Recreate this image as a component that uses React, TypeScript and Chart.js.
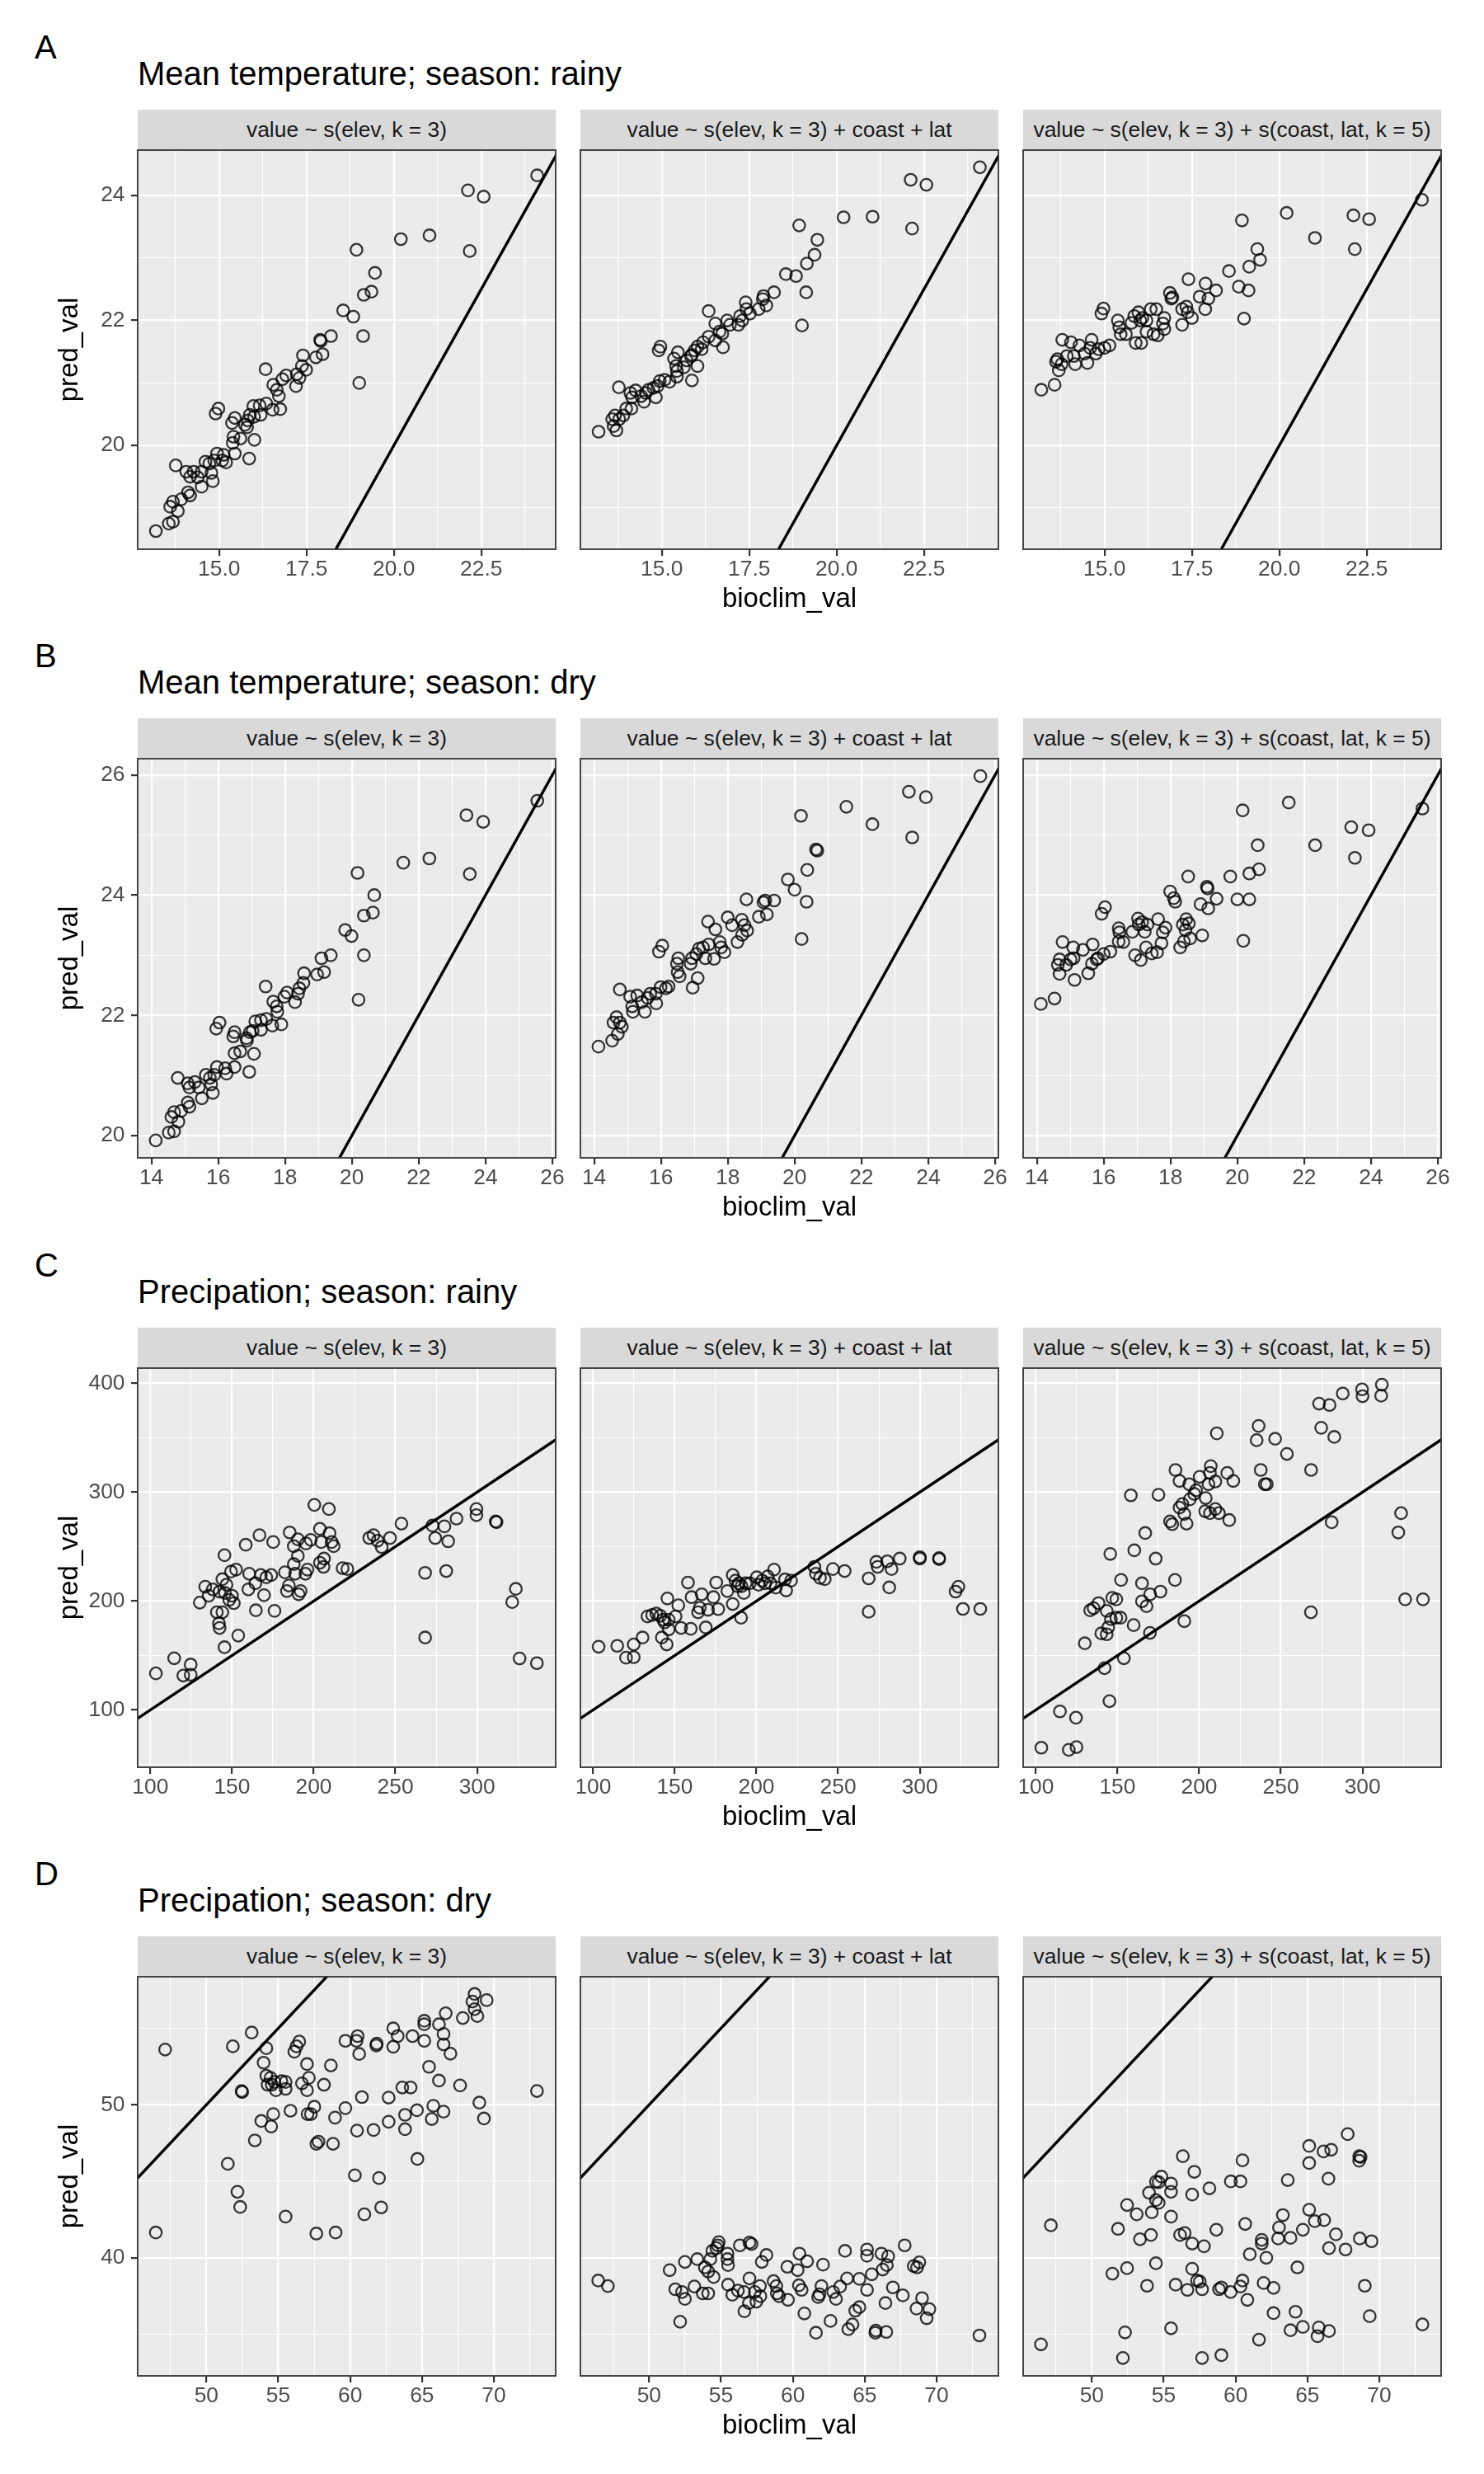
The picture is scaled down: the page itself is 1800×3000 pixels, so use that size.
import React, { useEffect, useRef } from "react";
import { Chart, registerables } from "chart.js";

Chart.register(...registerables);

const FONT = "'Liberation Sans', Arial, Helvetica, sans-serif";
Chart.defaults.font.family = FONT;

// ---------------- text ----------------
const rowTags = ["A", "B", "C", "D"];
const rowTitles = [
  "Mean temperature; season: rainy",
  "Mean temperature; season: dry",
  "Precipation; season: rainy",
  "Precipation; season: dry",
];
const stripLabels = [
  "value ~ s(elev, k = 3)",
  "value ~ s(elev, k = 3) + coast + lat",
  "value ~ s(elev, k = 3) + s(coast, lat, k = 5)",
];

// ---------------- data: [bioclim_val, pred_val] ----------------
const tempRainyElev = [[24.10,24.32],[22.12,24.08],[22.57,23.98],[21.02,23.36],[20.20,23.30],[22.17,23.11],[18.93,23.13],[19.46,22.76],[19.36,22.46],[19.14,22.41],[18.55,22.16],[18.84,22.06],[19.12,21.75],[19.01,21.00],[18.20,21.75],[17.89,21.69],[17.91,21.67],[17.96,21.46],[17.77,21.41],[17.40,21.44],[17.37,21.27],[17.49,21.21],[17.22,21.14],[17.30,21.08],[17.20,20.95],[16.92,21.12],[16.81,21.06],[16.33,21.22],[16.55,20.97],[16.65,20.89],[16.71,20.79],[16.75,20.58],[16.53,20.57],[16.35,20.67],[16.16,20.64],[15.98,20.63],[16.19,20.49],[16.00,20.46],[15.88,20.49],[15.82,20.40],[15.74,20.33],[15.80,20.29],[15.45,20.44],[15.37,20.36],[14.98,20.59],[14.90,20.51],[15.61,20.11],[15.41,20.14],[15.39,20.04],[16.01,20.09],[15.45,19.87],[15.86,19.79],[15.13,19.85],[15.20,19.73],[14.94,19.87],[14.86,19.76],[14.72,19.71],[14.61,19.74],[14.78,19.56],[14.82,19.43],[14.50,19.58],[14.50,19.34],[14.27,19.58],[14.06,19.58],[14.17,19.50],[13.76,19.68],[14.11,19.25],[14.17,19.20],[13.92,19.14],[13.68,19.10],[13.60,19.02],[13.82,18.95],[13.68,18.78],[13.56,18.75],[13.19,18.63],[14.39,19.49],[15.09,19.76]];
const tempRainyCoast = [[24.10,24.45],[22.12,24.25],[22.57,24.17],[20.20,23.65],[21.03,23.66],[22.16,23.47],[18.93,23.52],[19.45,23.29],[19.37,23.05],[19.15,22.91],[18.55,22.74],[18.84,22.71],[19.13,22.45],[19.01,21.92],[18.21,22.45],[17.91,22.39],[17.89,22.34],[17.99,22.24],[17.77,22.18],[17.40,22.29],[17.42,22.18],[17.52,22.11],[17.24,22.07],[17.30,22.00],[17.19,21.93],[16.87,22.00],[16.95,21.93],[16.34,22.15],[16.53,21.95],[16.65,21.82],[16.73,21.79],[16.75,21.57],[16.53,21.68],[16.34,21.74],[16.18,21.65],[16.02,21.58],[16.14,21.54],[15.94,21.52],[15.83,21.43],[15.86,21.45],[15.71,21.36],[15.63,21.25],[15.46,21.49],[15.35,21.39],[14.96,21.58],[14.91,21.52],[15.41,21.27],[15.43,21.19],[15.43,21.10],[16.02,21.27],[15.22,21.02],[15.86,21.04],[15.08,21.05],[14.94,21.03],[14.88,20.95],[14.76,20.92],[14.62,20.89],[14.83,20.77],[14.54,20.84],[14.49,20.70],[14.25,20.88],[14.10,20.84],[14.15,20.77],[13.77,20.93],[14.13,20.59],[13.90,20.48],[13.66,20.48],[13.78,20.42],[13.58,20.42],[13.62,20.31],[13.70,20.24],[13.19,20.22],[14.41,20.79],[13.98,20.59]];
const tempRainySpatial = [[24.08,23.93],[20.21,23.72],[22.12,23.68],[22.57,23.62],[18.93,23.60],[21.02,23.32],[22.16,23.14],[19.37,23.14],[19.45,22.97],[19.14,22.86],[18.56,22.79],[18.84,22.54],[19.12,22.48],[18.99,22.03],[17.40,22.66],[17.89,22.59],[18.19,22.48],[17.97,22.35],[17.72,22.38],[17.88,22.18],[16.87,22.44],[16.94,22.37],[17.22,22.18],[17.34,22.22],[17.38,22.13],[17.50,22.04],[17.22,21.93],[16.48,22.18],[16.32,22.18],[15.97,22.13],[15.85,22.07],[16.08,22.04],[16.20,22.00],[16.71,22.04],[16.67,21.95],[16.71,21.86],[16.40,21.78],[16.52,21.76],[16.20,21.82],[15.89,21.64],[16.05,21.64],[15.38,22.00],[15.42,21.89],[15.46,21.78],[15.61,21.78],[15.77,21.96],[14.97,22.19],[14.91,22.11],[15.14,21.60],[15.00,21.56],[14.83,21.54],[14.63,21.69],[14.59,21.56],[14.75,21.47],[14.51,21.32],[14.28,21.60],[14.04,21.65],[13.79,21.69],[14.12,21.43],[14.16,21.30],[13.92,21.43],[13.65,21.38],[13.61,21.34],[13.77,21.30],[13.69,21.20],[13.19,20.89],[13.57,20.97],[14.43,21.47],[16.02,22.00],[16.91,22.35]];

const tempDryElev = [[25.55,25.57],[23.43,25.33],[23.93,25.22],[21.54,24.54],[22.32,24.61],[23.53,24.35],[20.17,24.37],[20.67,24.00],[20.63,23.71],[20.36,23.66],[19.80,23.42],[19.99,23.32],[20.36,23.00],[20.20,22.26],[19.37,23.00],[19.09,22.95],[19.17,22.72],[18.96,22.68],[18.57,22.70],[18.55,22.54],[18.43,22.45],[18.30,22.22],[18.39,22.36],[18.06,22.38],[17.98,22.31],[17.42,22.48],[17.65,22.23],[17.75,22.15],[17.77,22.06],[17.89,21.85],[17.62,21.83],[17.44,21.94],[17.28,21.92],[17.11,21.90],[17.28,21.76],[17.03,21.74],[16.95,21.72],[16.85,21.62],[16.86,21.58],[16.49,21.72],[16.45,21.65],[16.04,21.88],[15.94,21.78],[16.66,21.40],[16.49,21.37],[17.07,21.36],[16.49,21.14],[16.93,21.06],[16.21,21.12],[16.25,21.03],[15.96,21.14],[15.88,21.01],[15.75,20.96],[15.63,21.01],[15.84,20.71],[15.51,20.62],[15.30,20.89],[15.09,20.87],[15.14,20.80],[14.79,20.96],[15.14,20.48],[15.09,20.55],[14.89,20.41],[14.68,20.39],[14.60,20.31],[14.81,20.23],[14.68,20.07],[14.52,20.05],[14.13,19.92],[15.42,20.80],[15.79,20.85]];
const tempDryCoast = [[25.56,25.98],[23.42,25.72],[23.93,25.63],[21.55,25.47],[22.33,25.18],[23.52,24.96],[20.19,25.32],[20.64,24.76],[20.68,24.74],[20.38,24.42],[19.80,24.26],[20.00,24.09],[20.36,23.89],[20.21,23.27],[19.39,23.91],[19.12,23.91],[19.07,23.88],[18.56,23.93],[19.17,23.68],[18.93,23.64],[18.00,23.63],[18.13,23.50],[18.42,23.59],[18.50,23.50],[18.58,23.41],[18.43,23.34],[18.29,23.22],[17.41,23.56],[17.63,23.43],[17.76,23.22],[17.80,23.13],[17.90,23.05],[17.59,22.94],[17.43,23.18],[17.26,23.13],[17.14,23.11],[17.33,22.95],[17.06,23.02],[16.93,22.95],[16.89,22.86],[16.52,22.95],[16.48,22.86],[16.04,23.16],[15.94,23.06],[16.50,22.72],[16.56,22.65],[17.10,22.62],[16.95,22.46],[16.23,22.48],[16.15,22.45],[15.99,22.47],[15.85,22.36],[15.68,22.36],[15.60,22.29],[15.86,22.20],[15.52,22.06],[15.29,22.33],[15.08,22.31],[15.14,22.15],[15.16,22.06],[14.77,22.43],[14.67,21.97],[14.58,21.88],[14.77,21.88],[14.83,21.81],[14.71,21.69],[14.54,21.58],[14.13,21.48],[15.43,22.22]];
const tempDrySpatial = [[25.54,25.44],[21.54,25.54],[20.16,25.41],[23.41,25.13],[23.93,25.08],[20.61,24.83],[22.33,24.83],[23.52,24.62],[20.65,24.43],[20.36,24.36],[19.79,24.31],[18.53,24.31],[19.09,24.14],[19.11,24.11],[19.38,23.94],[20.00,23.93],[20.36,23.93],[18.90,23.85],[19.13,23.78],[20.18,23.24],[17.99,24.06],[18.10,23.95],[18.14,23.89],[18.95,23.33],[18.47,23.60],[18.37,23.51],[18.55,23.53],[18.45,23.42],[18.59,23.28],[18.40,23.23],[18.29,23.13],[17.85,23.46],[17.63,23.60],[17.77,23.38],[17.73,23.20],[17.60,23.05],[17.44,23.03],[17.03,23.61],[17.15,23.55],[17.31,23.51],[17.05,23.51],[17.23,23.39],[16.86,23.39],[17.27,23.13],[16.94,23.00],[17.11,22.92],[16.45,23.45],[16.47,23.38],[16.59,23.22],[16.45,23.23],[16.04,23.80],[15.94,23.69],[16.20,23.06],[16.00,23.02],[15.83,22.95],[15.67,23.18],[15.65,22.86],[15.54,22.70],[15.38,23.09],[15.09,23.13],[14.77,23.22],[15.10,22.95],[15.01,22.93],[14.68,22.93],[14.63,22.84],[14.88,22.84],[14.68,22.69],[15.13,22.59],[14.53,22.28],[14.12,22.19],[15.79,22.93]];

const precRainyElev = [[103.4,133.6],[114.6,147.5],[120.2,131.6],[124.7,132.4],[124.7,141.7],[130.3,198.6],[133.6,213.2],[135.7,204.9],[138.2,210.7],[140.7,189.7],[142.0,179.6],[142.4,175.3],[144.1,189.7],[145.4,157.6],[144.1,220.1],[145.4,242.1],[142.4,208.7],[146.6,215.0],[145.7,207.4],[148.3,201.1],[150.0,204.9],[151.1,198.1],[149.4,227.1],[152.5,228.9],[153.8,168.3],[158.4,251.7],[160.5,225.1],[160.0,210.7],[164.6,191.5],[164.3,216.3],[166.8,260.5],[167.6,223.9],[171.0,221.8],[169.6,205.4],[174.0,223.9],[175.2,254.2],[176.0,191.0],[182.4,226.4],[183.6,209.2],[184.8,214.3],[185.3,263.0],[187.8,233.9],[188.6,225.1],[187.8,250.4],[190.3,256.7],[190.3,241.5],[190.8,206.2],[192.0,209.2],[194.9,225.1],[196.2,228.9],[195.3,252.9],[198.2,256.2],[200.4,288.3],[203.8,266.3],[204.6,254.2],[203.8,235.2],[206.0,231.4],[206.3,239.0],[209.3,284.5],[209.7,262.3],[211.0,254.2],[212.2,250.4],[217.7,230.2],[220.6,229.4],[234.0,257.9],[236.6,260.5],[239.1,255.4],[241.6,249.6],[246.7,257.9],[253.7,271.1],[272.7,269.3],[274.4,257.9],[280.0,268.6],[282.3,254.9],[287.4,275.7],[268.2,225.9],[281.1,227.6],[268.2,166.5],[299.6,284.5],[299.6,278.9],[311.4,273.1],[311.9,272.4],[323.7,211.2],[321.5,199.1],[326.0,147.3],[336.6,143.0]];
const precRainyCoast = [[103.4,158.1],[114.8,158.9],[120.2,148.0],[124.9,148.5],[124.9,160.2],[130.3,166.5],[133.3,185.9],[136.2,187.2],[138.7,188.5],[141.2,186.5],[142.1,166.5],[145.1,160.2],[142.9,182.9],[145.5,202.4],[146.3,182.9],[143.8,180.4],[146.3,174.0],[150.5,185.9],[152.2,196.1],[153.9,175.3],[159.8,174.5],[158.1,217.0],[160.3,203.6],[164.3,189.7],[166.5,206.2],[165.3,193.8],[169.0,175.8],[170.4,192.0],[173.7,203.6],[175.4,217.0],[176.6,192.6],[182.2,209.2],[185.5,223.9],[185.5,197.3],[187.2,218.8],[188.4,213.7],[189.2,216.3],[190.6,184.7],[192.3,207.4],[193.4,216.3],[196.0,216.3],[200.2,221.8],[201.3,215.0],[203.5,218.8],[205.2,216.3],[206.9,222.6],[208.6,216.3],[210.8,228.9],[211.9,212.4],[217.5,219.9],[218.2,209.8],[221.2,218.8],[235.5,231.4],[236.4,225.1],[238.9,221.3],[241.8,220.1],[246.8,229.4],[254.0,227.6],[268.7,220.8],[273.4,236.0],[274.2,231.4],[280.1,236.5],[282.7,229.4],[287.7,239.0],[281.3,212.5],[268.7,190.2],[300.0,240.3],[300.0,239.0],[311.8,239.5],[311.8,238.5],[323.6,213.2],[321.9,208.7],[326.4,192.8],[337.0,192.8],[190.9,213.7]];
const precRainySpatial = [[103.4,65.4],[120.2,63.4],[124.9,65.9],[114.8,98.7],[124.6,92.9],[145.1,108.1],[142.1,138.4],[153.9,147.5],[130.0,161.2],[140.1,170.3],[143.4,169.5],[144.3,175.8],[133.3,191.5],[135.4,193.5],[138.4,198.1],[143.4,191.0],[146.0,183.4],[149.3,184.7],[151.9,184.7],[146.8,202.9],[149.3,201.6],[159.9,177.9],[165.0,199.8],[167.8,195.3],[170.0,206.2],[176.3,208.7],[165.0,216.3],[169.9,170.8],[190.9,181.6],[152.2,219.4],[185.2,219.4],[145.6,243.3],[160.3,246.6],[173.4,239.0],[167.0,262.5],[158.2,297.1],[175.1,297.6],[182.2,273.1],[183.5,270.6],[192.3,271.1],[188.0,285.8],[189.7,289.1],[190.9,280.0],[194.3,293.4],[197.0,298.4],[198.1,301.7],[185.5,320.4],[188.0,310.3],[193.9,307.3],[200.3,314.1],[204.0,294.6],[203.7,282.5],[206.6,280.7],[209.9,284.5],[212.1,280.7],[207.1,323.9],[206.6,317.6],[205.7,307.3],[209.9,309.8],[217.2,317.6],[220.9,310.3],[218.4,274.4],[210.8,354.0],[236.4,360.8],[235.2,347.7],[246.5,349.0],[253.7,335.1],[237.7,320.4],[240.2,307.3],[241.4,307.3],[268.5,320.4],[273.4,381.3],[279.8,380.0],[287.9,390.6],[274.7,359.1],[282.7,350.7],[299.7,394.4],[300.0,388.1],[311.8,398.7],[311.4,388.6],[281.1,272.4],[268.4,189.7],[323.6,280.7],[321.9,263.0],[326.1,201.6],[337.0,201.6]];

const precDryElev = [[47.13,53.61],[46.48,41.65],[51.84,53.82],[53.15,54.72],[54.17,53.70],[53.98,52.75],[54.17,51.90],[54.26,51.31],[54.46,51.76],[54.74,51.49],[54.84,50.95],[54.55,51.31],[55.22,51.54],[55.51,51.49],[55.51,51.04],[52.45,50.90],[52.49,50.83],[56.12,53.47],[56.27,53.82],[56.46,54.13],[56.65,51.40],[57.00,50.95],[57.13,51.76],[57.00,52.66],[58.18,51.31],[58.66,52.57],[53.82,48.94],[54.51,48.58],[54.65,49.39],[55.85,49.61],[53.37,47.67],[57.04,49.39],[57.27,49.39],[57.51,49.87],[57.80,47.59],[57.65,47.45],[58.81,47.45],[58.95,49.16],[59.67,49.78],[51.49,46.14],[52.16,44.31],[52.35,43.32],[55.51,42.69],[57.65,41.58],[58.99,41.65],[59.67,54.18],[60.44,54.18],[60.52,54.49],[60.63,53.32],[61.85,54.00],[61.82,53.88],[63.00,54.99],[63.31,54.49],[63.00,53.79],[64.34,54.49],[65.16,54.18],[65.16,55.49],[65.16,55.26],[66.18,55.26],[66.50,54.63],[66.50,53.95],[66.98,53.34],[66.65,55.98],[67.84,55.67],[68.66,57.24],[68.51,56.75],[68.66,56.25],[68.85,55.80],[69.50,56.84],[65.49,52.48],[66.18,51.58],[67.65,51.26],[73.00,50.90],[60.82,50.50],[62.68,50.47],[63.63,51.13],[64.21,51.13],[68.99,50.14],[69.31,49.10],[64.65,49.64],[65.79,49.93],[66.50,49.55],[65.68,49.07],[63.82,49.34],[63.82,48.40],[62.68,48.89],[61.63,48.35],[60.48,48.31],[64.68,46.46],[60.33,45.39],[62.01,45.21],[60.99,42.84],[62.16,43.29]];
const precDryCoast = [[46.46,38.51],[47.13,38.15],[51.43,39.19],[52.49,39.73],[53.35,39.91],[51.82,37.94],[52.29,37.76],[52.49,37.31],[53.15,38.12],[52.16,35.82],[53.73,37.67],[54.11,37.67],[53.88,39.37],[54.11,39.10],[54.49,38.74],[54.26,39.91],[54.40,40.45],[54.68,40.63],[54.84,41.02],[54.78,40.81],[55.45,40.27],[55.45,39.91],[55.49,39.52],[56.31,40.81],[56.98,40.99],[57.13,40.90],[55.49,38.24],[55.79,37.58],[56.18,37.85],[56.60,37.76],[56.98,38.65],[56.63,36.50],[56.94,37.04],[57.36,37.76],[57.46,37.13],[57.71,38.15],[57.74,37.49],[57.84,39.73],[58.16,40.18],[58.66,38.47],[58.85,38.15],[58.89,37.67],[59.04,37.49],[59.66,37.25],[59.62,39.41],[60.33,39.19],[60.46,40.27],[60.99,39.77],[60.42,38.20],[60.61,37.90],[60.80,36.36],[62.10,39.55],[61.99,38.15],[61.76,37.43],[61.85,37.61],[61.61,35.10],[62.62,35.87],[62.81,37.76],[63.00,37.31],[63.29,38.12],[63.77,38.65],[63.63,40.45],[64.63,38.62],[64.34,36.54],[64.63,36.77],[63.86,35.33],[64.15,35.64],[65.16,40.54],[65.16,40.13],[65.16,37.90],[65.49,38.92],[66.16,40.27],[66.63,40.09],[66.54,39.52],[66.25,39.23],[65.74,35.10],[65.77,35.24],[66.50,35.15],[66.44,37.04],[66.96,38.06],[67.65,37.54],[67.78,40.81],[68.41,39.46],[68.80,39.70],[68.64,39.37],[68.99,37.36],[68.60,36.68],[69.50,36.64],[69.31,36.05],[72.98,34.92]];
const precDrySpatial = [[46.46,34.34],[47.15,42.12],[51.82,41.89],[52.45,43.45],[53.12,42.84],[53.35,41.21],[52.31,35.12],[52.16,33.45],[51.43,38.96],[52.45,39.32],[53.84,38.17],[54.46,39.64],[54.11,41.49],[54.17,42.97],[54.46,43.77],[54.65,43.59],[53.98,44.25],[54.46,44.97],[54.65,44.94],[54.84,45.30],[55.51,44.85],[55.51,44.31],[55.51,42.69],[55.51,35.39],[55.83,38.24],[56.14,41.49],[56.46,41.62],[56.33,46.64],[56.98,44.13],[57.13,45.62],[56.98,40.93],[56.65,37.90],[56.98,39.28],[57.32,38.51],[57.51,38.44],[57.67,37.94],[57.80,40.75],[57.67,33.45],[58.18,44.54],[58.66,41.83],[58.85,37.94],[59.01,38.06],[59.01,33.63],[59.66,37.76],[59.67,44.99],[60.34,44.99],[60.48,46.37],[60.67,42.21],[60.48,38.51],[60.34,38.12],[60.82,37.25],[60.99,40.23],[61.82,41.17],[61.82,40.93],[62.14,40.00],[61.95,38.35],[62.64,38.03],[62.64,36.38],[61.63,34.65],[62.96,41.26],[63.02,41.98],[63.29,42.79],[63.63,45.08],[63.82,41.30],[64.30,39.37],[64.17,36.47],[63.82,35.26],[64.68,35.48],[64.68,41.83],[65.12,43.14],[65.51,42.39],[66.16,42.46],[65.12,47.31],[65.12,46.19],[66.12,46.95],[66.65,47.06],[66.46,45.17],[66.98,41.53],[66.50,40.63],[67.65,40.54],[67.80,48.08],[68.60,46.64],[68.70,46.59],[68.60,46.34],[68.64,41.26],[69.46,41.08],[68.99,38.17],[69.33,36.18],[65.79,35.44],[65.70,34.87],[66.50,35.21],[73.00,35.64]];

// ---------------- axis limits and breaks ----------------
const tempRainyXLim = [12.67, 24.63];
const tempRainyYLim = [18.34, 24.725];
const tempRainyXMajor = [15, 17.5, 20, 22.5];
const tempRainyXMinor = [13.75, 16.25, 18.75, 21.25, 23.75];
const tempRainyYMajor = [20, 22, 24];
const tempRainyYMinor = [19, 21, 23];

const tempDryXLim = [13.59, 26.1];
const tempDryYLim = [19.63, 26.27];
const tempDryXMajor = [14, 16, 18, 20, 22, 24, 26];
const tempDryXMinor = [15, 17, 19, 21, 23, 25];
const tempDryYMajor = [20, 22, 24, 26];
const tempDryYMinor = [21, 23, 25];

const precRainyXLim = [92.26, 348.1];
const precRainyYLim = [47.4, 413.9];
const precRainyXMajor = [100, 150, 200, 250, 300];
const precRainyXMinor = [125, 175, 225, 275, 325];
const precRainyYMajor = [100, 200, 300, 400];
const precRainyYMinor = [50, 150, 250, 350];

const precDryXLim = [45.22, 74.3];
const precDryYLim = [32.28, 58.37];
const precDryXMajor = [50, 55, 60, 65, 70];
const precDryXMinor = [47.5, 52.5, 57.5, 62.5, 67.5, 72.5];
const precDryYMajor = [40, 50];
const precDryYMinor = [35, 45, 55];

const ROWS: any[] = [
  { xLim: tempRainyXLim, yLim: tempRainyYLim, xMajor: tempRainyXMajor, xMinor: tempRainyXMinor, yMajor: tempRainyYMajor, yMinor: tempRainyYMinor, xDec: 1, panels: [tempRainyElev, tempRainyCoast, tempRainySpatial] },
  { xLim: tempDryXLim, yLim: tempDryYLim, xMajor: tempDryXMajor, xMinor: tempDryXMinor, yMajor: tempDryYMajor, yMinor: tempDryYMinor, xDec: 0, panels: [tempDryElev, tempDryCoast, tempDrySpatial] },
  { xLim: precRainyXLim, yLim: precRainyYLim, xMajor: precRainyXMajor, xMinor: precRainyXMinor, yMajor: precRainyYMajor, yMinor: precRainyYMinor, xDec: 0, panels: [precRainyElev, precRainyCoast, precRainySpatial] },
  { xLim: precDryXLim, yLim: precDryYLim, xMajor: precDryXMajor, xMinor: precDryXMinor, yMajor: precDryYMajor, yMinor: precDryYMinor, xDec: 0, panels: [precDryElev, precDryCoast, precDrySpatial] },
];

// ---------------- layout ----------------
const PLOT_TOP = [182, 920, 1659, 2397];
const PLOT_LEFT = [167, 704, 1241];
const PLOT_W = 507;
const PLOT_H = 484;
const STRIP_H = 49;
const PAD_T = 4;
const PAD_R = 18;
const X_H = 90;
const Y0_LEFT = 40;

const panelDeco = {
  id: "panelDeco",
  beforeDraw(chart: any) {
    const { ctx, chartArea: a } = chart;
    ctx.save();
    ctx.fillStyle = "#EBEBEB";
    ctx.fillRect(a.left, a.top, a.right - a.left, a.bottom - a.top);
    ctx.restore();
  },
  afterDraw(chart: any) {
    const { ctx, chartArea: a } = chart;
    ctx.save();
    ctx.strokeStyle = "#333333";
    ctx.lineWidth = 1.8;
    ctx.strokeRect(a.left, a.top, a.right - a.left, a.bottom - a.top);
    ctx.restore();
  },
};

function isMaj(arr: number[], v: number) {
  return arr.some((m) => Math.abs(m - v) < 1e-6);
}

function Panel({ r, c }: { r: number; c: number }) {
  const ref = useRef<HTMLCanvasElement>(null);
  const row = ROWS[r];
  const padL = c === 0 ? 0 : 4;
  const yW = c === 0 ? PLOT_LEFT[0] - Y0_LEFT : 0;
  const left = c === 0 ? Y0_LEFT : PLOT_LEFT[c] - 4;
  const w = padL + yW + PLOT_W + PAD_R;
  const h = PAD_T + PLOT_H + X_H;

  useEffect(() => {
    const xTicks = [...row.xMajor, ...row.xMinor].sort((a, b) => a - b);
    const yTicks = [...row.yMajor, ...row.yMinor].sort((a, b) => a - b);
    const lo = Math.min(row.xLim[0], row.yLim[0]);
    const hi = Math.max(row.xLim[1], row.yLim[1]);
    const pts = row.panels[c].map((p: number[]) => ({ x: p[0], y: p[1] }));
    const gridW = (arr: number[]) => (ctx: any) => (ctx.tick && isMaj(arr, ctx.tick.value) ? 2.2 : 1.1);
    const tickC = (arr: number[]) => (ctx: any) => (ctx.tick && isMaj(arr, ctx.tick.value) ? "#333333" : "rgba(0,0,0,0)");

    const chart = new Chart(ref.current as HTMLCanvasElement, {
      type: "scatter",
      data: {
        datasets: [
          {
            data: [{ x: lo, y: lo }, { x: hi, y: hi }],
            showLine: true,
            borderColor: "#000000",
            borderWidth: 3.4,
            pointRadius: 0,
            pointHoverRadius: 0,
            clip: 0,
          } as any,
          {
            data: pts,
            showLine: false,
            pointRadius: 7.2,
            pointHoverRadius: 7.2,
            pointBorderWidth: 2.3,
            pointBorderColor: "rgba(0,0,0,0.78)",
            pointBackgroundColor: "rgba(0,0,0,0)",
            borderColor: "rgba(0,0,0,0.78)",
            backgroundColor: "rgba(0,0,0,0)",
          } as any,
        ],
      },
      options: {
        animation: false,
        responsive: false,
        devicePixelRatio: 1,
        events: [],
        layout: { autoPadding: false, padding: { left: padL, top: PAD_T, right: PAD_R, bottom: 0 } },
        plugins: { legend: { display: false }, tooltip: { enabled: false } },
        scales: {
          x: {
            type: "linear",
            position: "bottom",
            min: row.xLim[0],
            max: row.xLim[1],
            afterBuildTicks: (s: any) => {
              s.ticks = xTicks.map((v) => ({ value: v }));
            },
            afterFit: (s: any) => {
              s.height = X_H;
              s.paddingLeft = 0;
              s.paddingRight = 0;
            },
            border: { display: false },
            grid: {
              color: "#FFFFFF",
              lineWidth: gridW(row.xMajor),
              drawTicks: true,
              tickLength: 8,
              tickWidth: 2.2,
              tickColor: tickC(row.xMajor),
            },
            ticks: {
              autoSkip: false,
              maxRotation: 0,
              minRotation: 0,
              padding: 1,
              color: "#4D4D4D",
              font: { size: 26.4 },
              callback: (v: any) => (isMaj(row.xMajor, Number(v)) ? Number(v).toFixed(row.xDec) : ""),
            },
            title:
              c === 1
                ? { display: true, text: "bioclim_val", color: "#000000", font: { size: 33 }, padding: { top: 0, bottom: 9.6 } }
                : { display: false },
          },
          y: {
            type: "linear",
            position: "left",
            min: row.yLim[0],
            max: row.yLim[1],
            afterBuildTicks: (s: any) => {
              s.ticks = yTicks.map((v) => ({ value: v }));
            },
            afterFit: (s: any) => {
              s.width = yW;
              s.paddingTop = 0;
              s.paddingBottom = 0;
            },
            border: { display: false },
            grid: {
              color: "#FFFFFF",
              lineWidth: gridW(row.yMajor),
              drawTicks: c === 0,
              tickLength: 8,
              tickWidth: 2.2,
              tickColor: tickC(row.yMajor),
            },
            ticks: {
              display: c === 0,
              autoSkip: false,
              padding: 7.5,
              color: "#4D4D4D",
              font: { size: 26.4 },
              callback: (v: any) => (isMaj(row.yMajor, Number(v)) ? String(v) : ""),
            },
            title:
              c === 0
                ? { display: true, text: "pred_val", color: "#000000", font: { size: 33 }, padding: { top: 25.2, bottom: 0 } }
                : { display: false },
          },
        },
      } as any,
      plugins: [panelDeco],
    });
    return () => chart.destroy();
  }, [r, c]);

  return (
    <canvas
      ref={ref}
      width={w}
      height={h}
      style={{ position: "absolute", left, top: PLOT_TOP[r] - PAD_T, width: w, height: h }}
    />
  );
}

export default function App() {
  return (
    <div
      style={{
        position: "absolute",
        left: 0,
        top: 0,
        width: 1800,
        height: 3000,
        background: "#FFFFFF",
        fontFamily: FONT,
        overflow: "hidden",
      }}
    >
      {rowTitles.map((title, r) => (
        <React.Fragment key={r}>
          <div
            style={{ position: "absolute", left: 42, top: PLOT_TOP[r] - 145, fontSize: 40, lineHeight: "40px", color: "#000", whiteSpace: "nowrap" }}
          >
            {rowTags[r]}
          </div>
          <div
            style={{ position: "absolute", left: 167, top: PLOT_TOP[r] - 113, fontSize: 40, lineHeight: "40px", color: "#000", whiteSpace: "nowrap" }}
          >
            {title}
          </div>
          {stripLabels.map((s, c) => (
            <div
              key={c}
              style={{
                position: "absolute",
                left: PLOT_LEFT[c],
                top: PLOT_TOP[r] - STRIP_H,
                width: PLOT_W,
                height: STRIP_H,
                background: "#D9D9D9",
                color: "#1A1A1A",
                fontSize: 26.4,
                display: "flex",
                alignItems: "center",
                justifyContent: "center",
                whiteSpace: "nowrap",
              }}
            >
              {s}
            </div>
          ))}
          {[0, 1, 2].map((c) => (
            <Panel key={c} r={r} c={c} />
          ))}
        </React.Fragment>
      ))}
    </div>
  );
}
